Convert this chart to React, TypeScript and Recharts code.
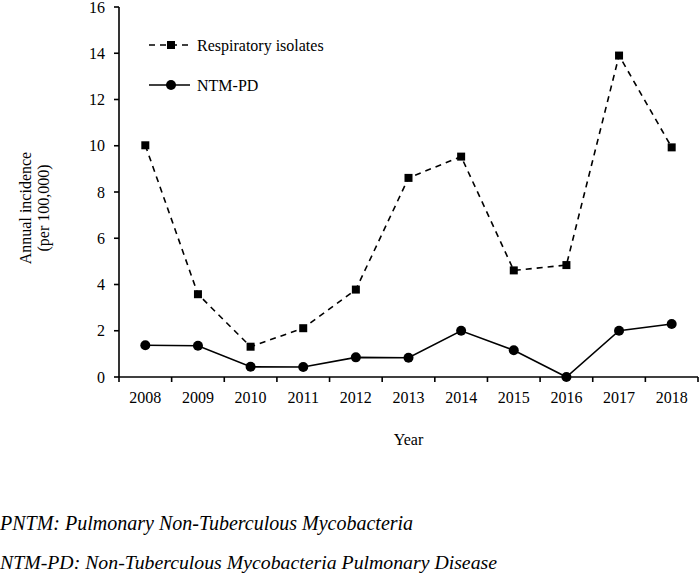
import React from 'react';
import { LineChart, Line, XAxis, YAxis } from 'recharts';

const years = ['2008', '2009', '2010', '2011', '2012', '2013', '2014', '2015', '2016', '2017', '2018'];
const respiratory = [10.02, 3.58, 1.31, 2.11, 3.78, 8.61, 9.53, 4.61, 4.84, 13.9, 9.93];
const ntmpd = [1.37, 1.35, 0.44, 0.43, 0.85, 0.83, 2.0, 1.16, 0.0, 2.0, 2.29];
const yTicks = [0, 2, 4, 6, 8, 10, 12, 14, 16];

const data = years.map((y, i) => ({ x: i, year: y, resp: respiratory[i], ntm: ntmpd[i] }));
// tick positions: category centres (labels) and band boundaries (tick marks)
const xTicks: number[] = [];
for (let i = 0; i <= years.length * 2; i++) xTicks.push(i / 2 - 0.5);

const FONT = '"Liberation Serif", "Times New Roman", Times, serif';

const SquareDot = (props: any) => {
  const { cx, cy } = props;
  if (cx == null || cy == null) return null;
  return <rect x={cx - 4} y={cy - 4} width={8} height={8} fill="#000" />;
};

const XTick = (props: any) => {
  const { x, y, payload } = props;
  const v = payload.value as number;
  if (Number.isInteger(v)) {
    return (
      <text x={x} y={y + 26} textAnchor="middle" fontFamily={FONT} fontSize={16} fill="#000">
        {years[v]}
      </text>
    );
  }
  return <line x1={x} y1={y} x2={x} y2={y + 5} stroke="#000" strokeWidth={1.6} />;
};

const YLabel = () => {
  const cx = 34;
  const cy = 208;
  return (
    <text transform={`rotate(-90 ${cx} ${cy})`} x={cx} y={cy} textAnchor="middle" fontFamily={FONT} fontSize={16} fill="#000">
      <tspan x={cx} dy={-3}>Annual incidence</tspan>
      <tspan x={cx} dy={18}>(per 100,000)</tspan>
    </text>
  );
};

const LegendBox = () => (
  <svg width={260} height={70} style={{ position: 'absolute', left: 148, top: 36, overflow: 'visible' }}>
    <line x1={1} y1={9} x2={42} y2={9} stroke="#000" strokeWidth={1.6} strokeDasharray="6 5" />
    <rect x={19} y={5} width={8} height={8} fill="#000" />
    <text x={49} y={14.5} fontFamily={FONT} fontSize={16} fill="#000">Respiratory isolates</text>
    <line x1={1} y1={49} x2={42} y2={49} stroke="#000" strokeWidth={1.6} />
    <circle cx={23} cy={49} r={5} fill="#000" />
    <text x={49} y={54.5} fontFamily={FONT} fontSize={16} fill="#000">NTM-PD</text>
  </svg>
);

export default function App() {
  return (
    <div style={{ position: 'absolute', left: 0, top: 0, width: 700, height: 574, background: '#fff', fontFamily: FONT }}>
      <LineChart width={700} height={574} data={data} margin={{ top: 7, right: 2, left: 0, bottom: 167 }}>
        <XAxis
          dataKey="x"
          type="number"
          domain={[-0.5, years.length - 0.5]}
          ticks={xTicks}
          interval={0}
          height={30}
          axisLine={{ stroke: '#000', strokeWidth: 1.6 }}
          tickLine={false}
          tickSize={0}
          tickMargin={0}
          tick={<XTick />}
        />
        <YAxis
          width={119}
          domain={[0, 16]}
          ticks={yTicks}
          interval={0}
          axisLine={{ stroke: '#000', strokeWidth: 1.6 }}
          tickLine={{ stroke: '#000', strokeWidth: 1.6 }}
          tickSize={5}
          tickMargin={9}
          tick={{ fill: '#000', fontFamily: FONT, fontSize: 16 }}
          label={<YLabel />}
        />
        <Line
          dataKey="resp"
          stroke="#000"
          strokeWidth={1.6}
          strokeDasharray="6 5"
          dot={<SquareDot />}
          activeDot={false}
          isAnimationActive={false}
        />
        <Line
          dataKey="ntm"
          stroke="#000"
          strokeWidth={1.6}
          dot={{ r: 5, fill: '#000', stroke: '#000', strokeWidth: 0 }}
          activeDot={false}
          isAnimationActive={false}
        />
      </LineChart>
      <LegendBox />
      <div style={{ position: 'absolute', left: 119, top: 430, width: 579, textAlign: 'center', fontSize: 16, lineHeight: '20px', color: '#000' }}>Year</div>
      <div style={{ position: 'absolute', left: 0, top: 511, fontSize: 20, lineHeight: '24px', fontStyle: 'italic', color: '#000', whiteSpace: 'nowrap' }}>
        PNTM: Pulmonary Non-Tuberculous Mycobacteria
      </div>
      <div style={{ position: 'absolute', left: 0, top: 550, fontSize: 19.8, lineHeight: '24px', fontStyle: 'italic', color: '#000', whiteSpace: 'nowrap' }}>
        NTM-PD: Non-Tuberculous Mycobacteria Pulmonary Disease
      </div>
    </div>
  );
}
